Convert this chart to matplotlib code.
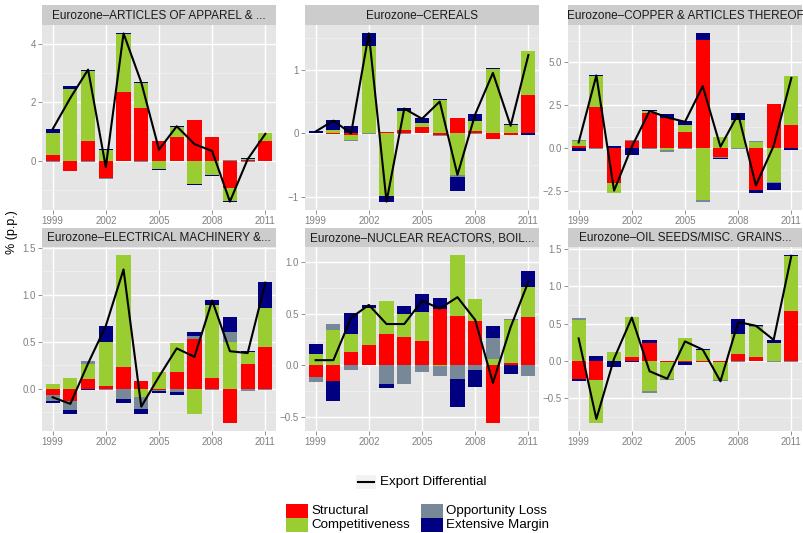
import numpy as np
import matplotlib
matplotlib.use("Agg")
import matplotlib.pyplot as plt
from matplotlib.patches import Rectangle
from matplotlib.ticker import MultipleLocator

plt.rcParams['font.family'] = ['Liberation Sans', 'DejaVu Sans']

years = list(range(1999, 2012))

# ---- data (p.p.) ----
apparel_struct = [0.19, -0.34, 0.67, -0.58, 2.35, 1.81, 0.67, 0.82, 1.39, 0.82, -0.94, 0.02, 0.67]
apparel_comp = [0.76, 2.47, 2.39, 0.36, 1.99, 0.85, -0.28, 0.34, -0.80, -0.49, -0.44, 0.04, 0.28]
apparel_opp = [-0.03, -0.02, -0.03, -0.03, -0.02, -0.03, 0.0, -0.02, 0.0, 0.0, 0.03, -0.04, 0.0]
apparel_ext = [0.13, 0.08, 0.06, 0.04, 0.02, 0.02, -0.03, 0.02, -0.02, -0.02, -0.02, 0.03, -0.02]
apparel_diff = [1.08, 2.15, 3.12, -0.22, 4.36, 2.68, 0.38, 1.18, 0.57, 0.33, -1.40, 0.05, 0.92]

cereals_struct = [0.0, -0.01, -0.03, 0.0, 0.02, 0.05, 0.10, -0.03, 0.25, 0.035, -0.09, -0.02, 0.60]
cereals_comp = [0.01, 0.05, -0.07, 1.38, -0.98, 0.30, 0.06, 0.52, -0.65, 0.165, 1.01, 0.125, 0.69]
cereals_opp = [0.0, 0.0, -0.02, -0.01, 0.0, -0.01, 0.0, -0.01, -0.03, -0.01, 0.0, 0.005, 0.0]
cereals_ext = [0.025, 0.16, 0.11, 0.19, -0.09, 0.05, 0.08, 0.02, -0.22, 0.10, 0.02, 0.015, -0.025]
cereals_diff = [0.03, 0.20, 0.0, 1.57, -1.07, 0.39, 0.23, 0.50, -0.65, 0.30, 0.95, 0.12, 1.23]

copper_struct = [0.15, 2.40, -2.01, 0.41, 2.05, 1.76, 0.97, 6.31, -0.52, 0.0, -2.40, 2.57, 1.35]
copper_comp = [0.28, 1.80, -0.56, 0.0, 0.10, -0.10, 0.38, -3.0, 0.66, 1.66, 0.35, -1.97, 2.85]
copper_opp = [0.05, -0.03, 0.0, 0.07, -0.03, -0.09, -0.03, -0.09, -0.04, -0.06, 0.06, -0.04, 0.0]
copper_ext = [-0.15, 0.06, 0.13, -0.37, 0.07, 0.23, 0.24, 0.38, -0.06, 0.39, -0.17, -0.41, -0.10]
copper_diff = [0.35, 4.25, -2.45, 0.10, 2.18, 1.80, 1.55, 3.62, 0.10, 2.00, -2.15, 0.15, 4.10]

elec_struct = [-0.065, -0.135, 0.10, 0.03, 0.23, 0.08, -0.01, 0.175, 0.53, 0.11, -0.36, 0.26, 0.45]
elec_comp = [0.05, 0.11, 0.16, 0.47, 1.19, -0.085, 0.175, 0.315, -0.27, 0.78, 0.50, 0.13, 0.415]
elec_opp = [-0.065, -0.09, 0.04, -0.01, -0.11, -0.13, -0.01, -0.035, 0.03, -0.01, 0.10, -0.02, -0.01]
elec_ext = [-0.02, -0.045, -0.01, 0.17, -0.04, -0.055, -0.02, -0.03, 0.04, 0.06, 0.16, 0.01, 0.275]
elec_diff = [-0.09, -0.16, 0.27, 0.67, 1.27, -0.19, 0.13, 0.43, 0.34, 0.94, 0.40, 0.38, 1.13]

nuclear_struct = [-0.115, -0.155, 0.125, 0.20, 0.30, 0.27, 0.24, 0.55, 0.48, 0.43, -0.555, 0.02, 0.47]
nuclear_comp = [0.105, 0.345, 0.175, 0.36, 0.325, 0.23, 0.28, -0.01, 0.585, 0.215, 0.06, 0.42, 0.29]
nuclear_opp = [-0.05, 0.055, -0.05, 0.0, -0.18, -0.18, -0.065, -0.09, -0.135, -0.05, 0.20, 0.01, -0.10]
nuclear_ext = [0.105, -0.19, 0.21, 0.025, -0.04, 0.075, 0.17, 0.105, -0.265, -0.16, 0.125, -0.08, 0.15]
nuclear_diff = [0.05, 0.05, 0.46, 0.585, 0.40, 0.40, 0.625, 0.55, 0.66, 0.44, -0.17, 0.37, 0.81]

oil_struct = [-0.25, -0.26, 0.0, 0.05, 0.245, -0.01, -0.01, -0.01, -0.01, 0.085, 0.045, 0.0, 0.67]
oil_comp = [0.55, -0.57, 0.12, 0.54, -0.41, -0.24, 0.30, 0.14, -0.245, 0.28, 0.415, 0.235, 0.73]
oil_opp = [0.025, 0.0, 0.0, 0.0, -0.02, -0.01, 0.01, 0.0, -0.01, -0.02, 0.01, -0.01, -0.01]
oil_ext = [-0.025, 0.06, -0.085, -0.02, 0.04, 0.0, -0.05, 0.02, -0.01, 0.19, 0.01, 0.05, 0.015]
oil_diff = [0.30, -0.78, 0.03, 0.58, -0.14, -0.24, 0.26, 0.15, -0.275, 0.52, 0.47, 0.28, 1.41]

titles = ["Eurozone\u2013ARTICLES OF APPAREL & ...", "Eurozone\u2013CEREALS",
          "Eurozone\u2013COPPER & ARTICLES THEREOF", "Eurozone\u2013ELECTRICAL MACHINERY &...",
          "Eurozone\u2013NUCLEAR REACTORS, BOIL...", "Eurozone\u2013OIL SEEDS/MISC. GRAINS..."]
components = ["Structural", "Competitiveness", "Opportunity Loss", "Extensive Margin"]
colors = ["#FF0000", "#9ACD32", "#778899", "#000080"]
tick_steps = [2, 1, 2.5, 0.5, 0.5, 0.5]

panels = [
    (apparel_struct, apparel_comp, apparel_opp, apparel_ext, apparel_diff),
    (cereals_struct, cereals_comp, cereals_opp, cereals_ext, cereals_diff),
    (copper_struct, copper_comp, copper_opp, copper_ext, copper_diff),
    (elec_struct, elec_comp, elec_opp, elec_ext, elec_diff),
    (nuclear_struct, nuclear_comp, nuclear_opp, nuclear_ext, nuclear_diff),
    (oil_struct, oil_comp, oil_opp, oil_ext, oil_diff),
]

W, H = 804, 533
fig = plt.figure(figsize=(W / 100, H / 100), dpi=100)


def box(x0, y0, x1, y1):
    return [x0 / W, 1 - y1 / H, (x1 - x0) / W, (y1 - y0) / H]


col_x = [42, 305, 568]
pw = 234
rows = [(5, 25, 210), (228, 247, 431)]
tick_col = "#808080"

for i, (data, title, step) in enumerate(zip(panels, titles, tick_steps)):
    r, c = divmod(i, 3)
    s_top, p_top, p_bot = rows[r]
    x0 = col_x[c]
    ax = fig.add_axes(box(x0, p_top, x0 + pw, p_bot))
    sax = fig.add_axes(box(x0, s_top, x0 + pw, p_top))
    sax.set_facecolor("#CCCCCC")
    sax.set_xticks([])
    sax.set_yticks([])
    for sp in sax.spines.values():
        sp.set_visible(False)
    sax.text(0.5, 0.45, title, ha="center", va="center", fontsize=8.5, color="#1A1A1A")

    ax.set_facecolor("#E5E5E5")
    for sp in ax.spines.values():
        sp.set_visible(False)
    pos = np.zeros(len(years))
    neg = np.zeros(len(years))
    for vals, col in zip(data[:4], colors):
        v = np.array(vals)
        bottoms = np.where(v >= 0, pos, neg)
        ax.bar(years, v, bottom=bottoms, width=0.8, color=col, linewidth=0, zorder=3)
        pos = pos + np.clip(v, 0, None)
        neg = neg + np.clip(v, None, 0)
    ax.plot(years, data[4], color="black", lw=1.5, zorder=4)

    lo = min(neg.min(), min(data[4]))
    hi = max(pos.max(), max(data[4]))
    pad = (hi - lo) * 0.05
    ax.set_ylim(lo - pad, hi + pad)
    ax.set_xlim(1998.4, 2011.6)
    ax.yaxis.set_major_locator(MultipleLocator(step))
    ax.yaxis.set_minor_locator(MultipleLocator(step / 2))
    ax.set_xticks([1999, 2002, 2005, 2008, 2011])
    ax.grid(which="major", color="white", lw=1.0, zorder=1)
    ax.grid(which="minor", axis="y", color="#F2F2F2", lw=0.5, zorder=0)
    ax.tick_params(which="major", colors=tick_col, labelsize=7, length=3, width=0.6, pad=1.5)
    ax.tick_params(which="minor", length=0)

fig.text(12 / W, 1 - 232 / H, "% (p.p.)", rotation=90, ha="center", va="center", fontsize=9)

# legend: line
fig.patches.append(Rectangle((356 / W, 1 - 489 / H), 20 / W, 14 / H, transform=fig.transFigure,
                             facecolor="#F2F2F2", edgecolor="none"))
fig.lines.append(plt.Line2D([358 / W, 374 / W], [1 - 482 / H, 1 - 482 / H], transform=fig.transFigure,
                            color="black", lw=1.5))
fig.text(380 / W, 1 - 482 / H, "Export Differential", ha="left", va="center", fontsize=9.6)

# legend: fills
key_pos = [(286, 504), (286, 518), (421, 504), (421, 518)]
for name, col, (kx, ky) in zip(components, colors, key_pos):
    fig.patches.append(Rectangle((kx / W, 1 - (ky + 14) / H), 22 / W, 14 / H, transform=fig.transFigure,
                                 facecolor=col, edgecolor="none"))
    fig.text((kx + 25) / W, 1 - (ky + 7) / H, name, ha="left", va="center", fontsize=9.6)

fig.savefig("out.png", dpi=100)
